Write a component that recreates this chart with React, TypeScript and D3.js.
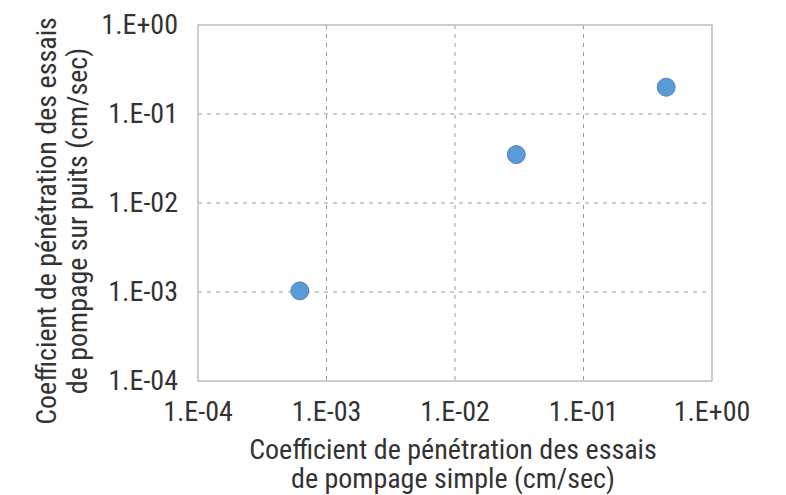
import React, { useRef, useEffect } from 'react';
import * as d3 from 'd3';

// Coefficient values (cm/sec)
const simplePumping = [6.2e-4, 3.0e-2, 4.4e-1];
const wellPumping = [1.03e-3, 3.5e-2, 2.0e-1];
const tickValues = [1e-4, 1e-3, 1e-2, 1e-1, 1e0];
const tickLabels = ['1.E-04', '1.E-03', '1.E-02', '1.E-01', '1.E+00'];
const xTitle = ['Coefficient de pénétration des essais', 'de pompage simple (cm/sec)'];
const yTitle = ['Coefficient de pénétration des essais', 'de pompage sur puits (cm/sec)'];

const FONT = "'Liberation Sans Narrow', 'Arial Narrow', 'Roboto Condensed', sans-serif";

const App = () => {
  const svgRef = useRef<SVGSVGElement>(null);

  useEffect(() => {
    const svg = d3.select(svgRef.current);
    svg.selectAll('*').remove();

    const margin = { top: 25, right: 74, bottom: 114, left: 198 };
    const width = 786 - margin.left - margin.right;
    const height = 495 - margin.top - margin.bottom;

    const g = svg.append('g')
      .attr('transform', `translate(${margin.left},${margin.top})`);

    const x = d3.scaleLog().domain([1e-4, 1]).range([0, width]);
    const y = d3.scaleLog().domain([1e-4, 1]).range([height, 0]);

    // grid lines
    g.selectAll('.vgrid')
      .data(tickValues.slice(1, -1))
      .enter()
      .append('line')
      .attr('x1', d => x(d)).attr('x2', d => x(d))
      .attr('y1', 0).attr('y2', height)
      .attr('stroke', '#9a9a9a')
      .attr('stroke-width', 1)
      .attr('stroke-dasharray', '4,5');

    g.selectAll('.hgrid')
      .data(tickValues.slice(1, -1))
      .enter()
      .append('line')
      .attr('x1', 0).attr('x2', width)
      .attr('y1', d => y(d)).attr('y2', d => y(d))
      .attr('stroke', '#9a9a9a')
      .attr('stroke-width', 1)
      .attr('stroke-dasharray', '4,5');

    // frame
    g.append('rect')
      .attr('width', width)
      .attr('height', height)
      .attr('fill', 'none')
      .attr('stroke', '#bdbdbd')
      .attr('stroke-width', 1.5);

    // tick labels
    g.selectAll('.xtick')
      .data(tickValues)
      .enter()
      .append('text')
      .attr('x', d => x(d))
      .attr('y', height + 40)
      .attr('text-anchor', 'middle')
      .style('font-family', FONT)
      .style('font-size', '28px')
      .style('fill', '#333')
      .text((d, i) => tickLabels[i]);

    g.selectAll('.ytick')
      .data(tickValues)
      .enter()
      .append('text')
      .attr('x', -20)
      .attr('y', d => y(d) + 9)
      .attr('text-anchor', 'end')
      .style('font-family', FONT)
      .style('font-size', '28px')
      .style('fill', '#333')
      .text((d, i) => tickLabels[i]);

    // axis titles
    g.selectAll('.xtitle')
      .data(xTitle)
      .enter()
      .append('text')
      .attr('x', width / 2 - 2)
      .attr('y', (d, i) => height + 78 + i * 29)
      .attr('text-anchor', 'middle')
      .style('font-family', FONT)
      .style('font-size', '28px')
      .style('fill', '#333')
      .text(d => d);

    g.selectAll('.ytitle')
      .data(yTitle)
      .enter()
      .append('text')
      .attr('transform', (d, i) => `translate(${-142 + i * 31},${height / 2 + 18}) rotate(-90)`)
      .attr('text-anchor', 'middle')
      .style('font-family', FONT)
      .style('font-size', '28px')
      .style('fill', '#333')
      .text(d => d);

    // points
    g.selectAll('.pt')
      .data(simplePumping.map((v, i) => ({ x: v, y: wellPumping[i] })))
      .enter()
      .append('circle')
      .attr('cx', d => x(d.x))
      .attr('cy', d => y(d.y))
      .attr('r', 9)
      .attr('fill', '#5b9bd5')
      .attr('stroke', '#4a86c8')
      .attr('stroke-width', 1);
  }, []);

  return (
    <svg
      ref={svgRef}
      width={786}
      height={495}
      style={{ position: 'absolute', left: 0, top: 0, background: 'white', display: 'block' }}
    />
  );
};

export default App;
